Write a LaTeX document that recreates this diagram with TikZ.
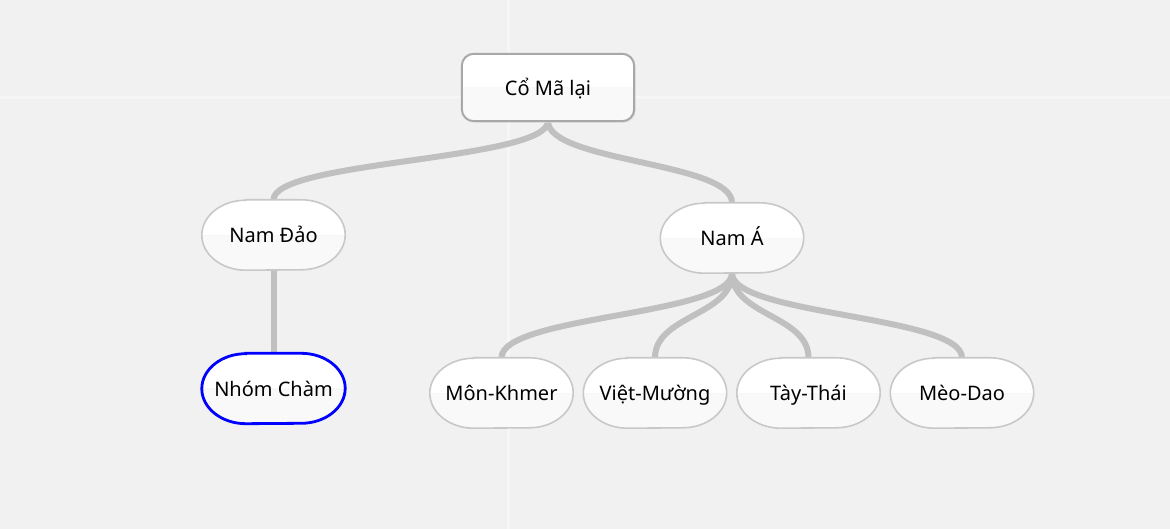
\documentclass[tikz,border=0pt]{standalone}
\usepackage{fontspec}
\setmainfont{Noto Sans}
\usetikzlibrary{calc}
\definecolor{bg}{HTML}{F1F1F1}
\definecolor{gridc}{HTML}{F6F6F6}
\definecolor{edgec}{HTML}{C0C0C0}
\definecolor{pillb}{HTML}{C8C8C8}
\definecolor{rootb}{HTML}{A8A8A8}
\definecolor{lowfill}{HTML}{F9F9F9}
\tikzset{
  x=1pt,y=1pt,
  pill/.style={minimum width=143pt,minimum height=70pt,inner sep=0pt},
  rootbox/.style={minimum width=172pt,minimum height=67pt,inner sep=0pt},
  label/.style={inner sep=0pt,text height=17pt,text depth=1pt,font=\fontsize{20}{24}\selectfont},
  link/.style={draw=edgec,line width=6pt,line cap=round},
}
\newcommand\pillpath[1]{([xshift=44pt]#1.north west) -- ([xshift=-44pt]#1.north east)
  arc[start angle=90,end angle=-90,x radius=44pt,y radius=35pt]
  -- ([xshift=44pt]#1.south west)
  arc[start angle=270,end angle=90,x radius=44pt,y radius=35pt] -- cycle}
\newcommand\drawpill[2]{%
  \fill[white] \pillpath{#1};
  \begin{scope}
    \clip \pillpath{#1};
    \fill[lowfill] (#1.west) rectangle (#1.south east);
    \draw[gridc,line width=1pt] ([yshift=-1pt]#1.west) -- ([yshift=-1pt]#1.east);
  \end{scope}
  \draw[#2] \pillpath{#1};
}
\begin{document}
\begin{tikzpicture}
\fill[bg] (0,0) rectangle (1170,529);
\useasboundingbox (0,0) rectangle (1170,529);
\draw[gridc,line width=3pt] (508,0) -- (508,529);
\draw[gridc,line width=3pt] (0,431) -- (1170,431);

% nodes (shapes drawn below around their anchors)
\node[rootbox] (root) at (548,441.5) {};
\node[pill] (namdao) at (273.5,294) {};
\node[pill] (nama) at (732,291) {};
\node[pill] (cham) at (273.5,140.5) {};
\node[pill] (mon) at (501.5,136) {};
\node[pill] (viet) at (655,136) {};
\node[pill] (tay) at (808.5,136) {};
\node[pill] (meo) at (962,136) {};

% connectors
\draw[link] (root.south) .. controls ($(root.south)!0.5!(root.south|-namdao.north)$) and ($(namdao.north)!0.5!(namdao.north|-root.south)$) .. (namdao.north);
\draw[link] (root.south) .. controls ($(root.south)!0.5!(root.south|-nama.north)$) and ($(nama.north)!0.5!(nama.north|-root.south)$) .. (nama.north);
\draw[link] (namdao.south) -- (cham.north);
\foreach \c in {mon,viet,tay,meo}{
  \draw[link] (nama.south) .. controls ($(nama.south)!0.5!(nama.south|-\c.north)$) and ($(\c.north)!0.5!(\c.north|-nama.south)$) .. (\c.north);
}

% root box
\fill[black!12,rounded corners=12pt] ([xshift=1.5pt,yshift=-1.5pt]root.north west) rectangle ([xshift=1.5pt,yshift=-1.5pt]root.south east);
\fill[white,rounded corners=12pt] (root.north west) rectangle (root.south east);
\begin{scope}
  \clip[rounded corners=12pt] (root.north west) rectangle (root.south east);
  \fill[lowfill] (root.west) rectangle (root.south east);
\end{scope}
\draw[rootb,line width=2pt,rounded corners=12pt] (root.north west) rectangle (root.south east);

% pills
\foreach \c in {namdao,nama,mon,viet,tay,meo}{\drawpill{\c}{pillb,line width=1.6pt}}
\drawpill{cham}{blue,line width=2.8pt}

% texts
\node[label] at (root) {Cổ Mã lại};
\node[label] at (namdao) {Nam Đảo};
\node[label] at (nama) {Nam Á};
\node[label] at (cham) {Nhóm Chàm};
\node[label] at (mon) {Môn-Khmer};
\node[label] at (viet) {Việt-Mường};
\node[label] at (tay) {Tày-Thái};
\node[label] at (meo) {Mèo-Dao};
\end{tikzpicture}
\end{document}
